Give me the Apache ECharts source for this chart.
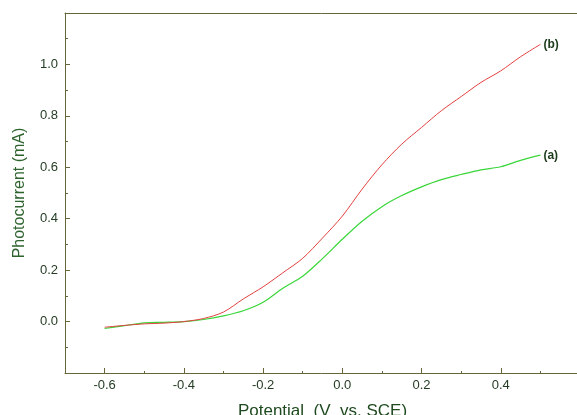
<!DOCTYPE html>
<html>
<head>
<meta charset="utf-8">
<script src="https://cdn.jsdelivr.net/npm/echarts@6/dist/echarts.min.js"></script>
<style>html,body{margin:0;padding:0;background:#fff;}#c{width:577px;height:415px;}</style>
</head>
<body>
<div id="c"></div>
<script>
const potential = [-0.6,-0.55,-0.5,-0.45,-0.4,-0.35,-0.3,-0.25,-0.2,-0.15,-0.1,-0.05,0.0,0.05,0.1,0.15,0.2,0.25,0.3,0.35,0.4,0.45,0.5];
const currentA = [-0.027,-0.016,-0.005,-0.003,0.0,0.008,0.022,0.042,0.075,0.13,0.176,0.245,0.32,0.39,0.447,0.49,0.524,0.552,0.572,0.59,0.602,0.627,0.647];
const currentB = [-0.022,-0.015,-0.009,-0.006,0.0,0.012,0.037,0.088,0.135,0.19,0.246,0.325,0.41,0.515,0.61,0.69,0.755,0.82,0.875,0.93,0.975,1.03,1.078];
const xMajorTicks = [-0.6,-0.4,-0.2,0.0,0.2,0.4];
const xMinorTicks = [-0.5,-0.3,-0.1,0.1,0.3,0.5];
const yTickLabels = ['0.0','0.2','0.4','0.6','0.8','1.0'];
const seriesNames = ['(a)','(b)'];

const axisCol = '#66663a';
const textCol = '#253d25';
const chart = echarts.init(document.getElementById('c'));
const pairs = (xs, ys) => xs.map((x, i) => [x, ys[i]]);
chart.setOption({
  animation: false,
  grid: {left: 65, right: -3, top: 13, bottom: 42, outerBoundsMode: 'none', containLabel: false},
  xAxis: [
    {type: 'value', min: -0.7, max: 0.6, position: 'bottom',
     name: 'Potential  (V  vs. SCE)', nameLocation: 'middle', nameGap: 30,
     nameTextStyle: {fontFamily: 'Liberation Sans', fontSize: 17, color: '#1f4a1f'},
     axisLine: {show: true, onZero: false, lineStyle: {color: axisCol, width: 1}},
     axisTick: {show: true, inside: true, length: 5, customValues: xMajorTicks, lineStyle: {color: axisCol}},
     axisLabel: {customValues: xMajorTicks, formatter: v => v.toFixed(1), margin: 6,
       fontFamily: 'Liberation Sans', fontSize: 13, color: textCol},
     splitLine: {show: false}},
    {type: 'value', min: -0.7, max: 0.6, position: 'bottom',
     axisLine: {show: false, onZero: false},
     axisTick: {show: true, inside: true, length: 2, customValues: xMinorTicks, lineStyle: {color: axisCol}},
     axisLabel: {show: false}, splitLine: {show: false}},
    {type: 'value', min: -0.7, max: 0.6, position: 'top',
     axisLine: {show: true, onZero: false, lineStyle: {color: axisCol, width: 1}},
     axisTick: {show: false}, axisLabel: {show: false}, splitLine: {show: false}}
  ],
  yAxis: {
    type: 'value', min: -0.2, max: 1.2, interval: 0.2, position: 'left',
    name: 'Photocurrent (mA)', nameLocation: 'middle', nameGap: 37, nameRotate: 90,
    nameTextStyle: {fontFamily: 'Liberation Sans', fontSize: 16, color: '#2e632e'},
    axisLine: {show: true, onZero: false, lineStyle: {color: axisCol, width: 1}},
    axisTick: {show: true, inside: true, length: 5, lineStyle: {color: axisCol}},
    minorTick: {show: true, splitNumber: 2, length: 3, lineStyle: {color: axisCol}},
    axisLabel: {margin: 7, fontFamily: 'Liberation Sans', fontSize: 13, color: textCol,
      formatter: v => { const s = v.toFixed(1); return yTickLabels.includes(s) ? s : ''; }},
    splitLine: {show: false}, minorSplitLine: {show: false}
  },
  series: [
    {name: seriesNames[0], type: 'line', xAxisIndex: 0, data: pairs(potential, currentA),
     showSymbol: false, smooth: 0.3, lineStyle: {color: '#3ad63a', width: 1.2},
     endLabel: {show: true, formatter: seriesNames[0], distance: 3, fontFamily: 'Liberation Sans',
       fontSize: 12, fontWeight: 'bold', color: '#1a3a1a'}},
    {name: seriesNames[1], type: 'line', xAxisIndex: 0, data: pairs(potential, currentB),
     showSymbol: false, smooth: 0.3, lineStyle: {color: '#e0403f', width: 1},
     endLabel: {show: true, formatter: seriesNames[1], distance: 3, fontFamily: 'Liberation Sans',
       fontSize: 12, fontWeight: 'bold', color: '#1a3a1a'}}
  ]
});
</script>
</body>
</html>
